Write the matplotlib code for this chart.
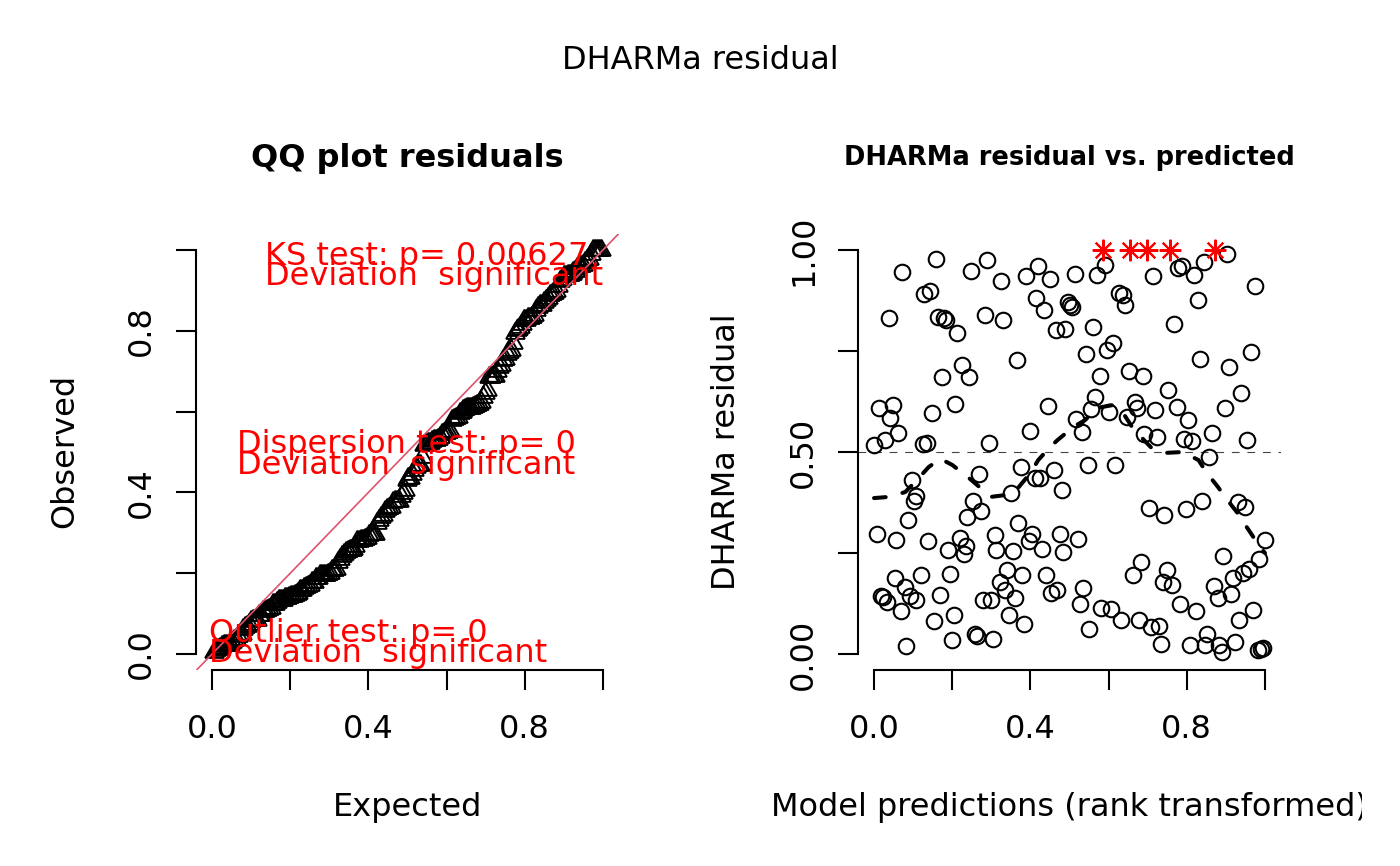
import numpy as np
import matplotlib
matplotlib.use("Agg")
import matplotlib.pyplot as plt
from matplotlib.transforms import Bbox, TransformedBbox

# simulated residuals vs rank-transformed predictions
pred_x = [0.072, 0.158, 0.128, 0.142, 0.038, 0.164, 0.179, 0.185, 0.213, 0.249,
          0.289, 0.325, 0.284, 0.329, 0.390, 0.420, 0.450, 0.415, 0.436, 0.465,
          0.489, 0.365, 0.224, 0.174, 0.244, 0.012, 0.048, 0.042, 0.062, 0.001,
          0.027, 0.148, 0.208, 0.126, 0.135, 0.294, 0.400, 0.445, 0.497, 0.501,
          0.506,
          0.514, 0.571, 0.592, 0.713, 0.778, 0.789, 0.818, 0.844, 0.904, 0.975,
          0.627, 0.636, 0.642, 0.829, 0.561, 0.768, 0.612, 0.597, 0.541, 0.834,
          0.964, 0.909, 0.577, 0.653, 0.687, 0.753, 0.939, 0.566, 0.555, 0.601,
          0.668, 0.672, 0.648, 0.718, 0.774, 0.804, 0.899, 0.517, 0.531, 0.691,
          0.723, 0.794, 0.814, 0.864, 0.954,
          0.098, 0.108, 0.102, 0.087, 0.008, 0.057, 0.138, 0.269, 0.253, 0.274,
          0.239, 0.189, 0.219, 0.235, 0.229, 0.375, 0.411, 0.424, 0.460, 0.481,
          0.350, 0.369, 0.309, 0.313, 0.355, 0.396, 0.405, 0.430, 0.476, 0.483,
          0.053, 0.078, 0.119, 0.017, 0.023, 0.034, 0.093, 0.108, 0.068, 0.168,
          0.194, 0.153, 0.204, 0.083, 0.199, 0.258, 0.263, 0.304, 0.279, 0.300,
          0.340, 0.321, 0.334, 0.360, 0.379, 0.345, 0.384, 0.441, 0.453, 0.469,
          0.858, 0.547, 0.616, 0.703, 0.742, 0.798, 0.839, 0.930, 0.949, 1.000,
          0.523, 0.893, 0.682, 0.663, 0.749, 0.738, 0.763, 0.985, 0.959, 0.943,
          0.919, 0.870, 0.879, 0.914, 0.535, 0.527, 0.581, 0.606, 0.631, 0.677,
          0.708, 0.729, 0.783, 0.824, 0.551, 0.934, 0.969, 0.733, 0.808, 0.847,
          0.853, 0.883, 0.889, 0.923, 0.983, 0.991, 0.996]
resid_y = [0.945, 0.978, 0.891, 0.899, 0.831, 0.835, 0.831, 0.826, 0.795, 0.947,
           0.974, 0.922, 0.839, 0.827, 0.936, 0.961, 0.928, 0.880, 0.852, 0.803,
           0.805, 0.728, 0.716, 0.686, 0.686, 0.609, 0.616, 0.584, 0.547, 0.518,
           0.530, 0.597, 0.618, 0.520, 0.523, 0.522, 0.552, 0.615, 0.872, 0.864,
           0.858,
           0.941, 0.938, 0.964, 0.936, 0.955, 0.960, 0.939, 0.971, 0.990, 0.912,
           0.893, 0.889, 0.865, 0.875, 0.810, 0.817, 0.770, 0.752, 0.743, 0.730,
           0.747, 0.710, 0.689, 0.700, 0.689, 0.654, 0.646, 0.635, 0.606, 0.600,
           0.623, 0.609, 0.586, 0.605, 0.612, 0.578, 0.609, 0.582, 0.549, 0.545,
           0.536, 0.532, 0.528, 0.547, 0.530,
           0.431, 0.390, 0.378, 0.331, 0.298, 0.281, 0.279, 0.445, 0.379, 0.353,
           0.339, 0.257, 0.287, 0.267, 0.248, 0.463, 0.436, 0.436, 0.455, 0.405,
           0.399, 0.324, 0.294, 0.257, 0.254, 0.279, 0.298, 0.261, 0.298, 0.252,
           0.188, 0.166, 0.195, 0.143, 0.140, 0.130, 0.143, 0.134, 0.106, 0.147,
           0.199, 0.082, 0.096, 0.020, 0.034, 0.050, 0.044, 0.036, 0.134, 0.133,
           0.207, 0.178, 0.158, 0.139, 0.196, 0.096, 0.075, 0.195, 0.151, 0.158,
           0.488, 0.467, 0.467, 0.361, 0.343, 0.360, 0.378, 0.376, 0.364, 0.281,
           0.284, 0.243, 0.229, 0.196, 0.207, 0.178, 0.170, 0.234, 0.211, 0.201,
           0.188, 0.168, 0.139, 0.149, 0.164, 0.123, 0.115, 0.111, 0.083, 0.083,
           0.067, 0.069, 0.125, 0.106, 0.063, 0.083, 0.109, 0.026, 0.023, 0.023,
           0.049, 0.023, 0.005, 0.030, 0.009, 0.012, 0.016]

# outliers (shown as red stars)
outlier_x = [0.586, 0.655, 0.697, 0.757, 0.872]
outlier_y = [1.0, 1.0, 1.0, 1.0, 1.0]

# dashed smoother through the residuals
smooth_x = [0.00, 0.04, 0.08, 0.11, 0.14, 0.17, 0.20, 0.24, 0.27, 0.30, 0.34,
            0.37, 0.40, 0.42, 0.45, 0.47, 0.51, 0.54, 0.57, 0.61, 0.64, 0.66,
            0.69, 0.71, 0.75, 0.79, 0.83, 0.85, 0.88, 0.90, 0.93, 0.95, 0.97,
            0.99, 1.00]
smooth_y = [0.386, 0.389, 0.401, 0.431, 0.463, 0.483, 0.468, 0.438, 0.413, 0.389,
            0.394, 0.413, 0.448, 0.480, 0.512, 0.530, 0.562, 0.579, 0.609, 0.616,
            0.592, 0.562, 0.530, 0.510, 0.498, 0.500, 0.480, 0.450, 0.413, 0.386,
            0.349, 0.319, 0.290, 0.262, 0.250]

qq_ticks = [0.0, 0.2, 0.4, 0.6, 0.8, 1.0]
qq_ticklabels = ["0.0", "", "0.4", "", "0.8", ""]
res_yticks = [0.0, 0.25, 0.5, 0.75, 1.0]
res_yticklabels = ["0.00", "", "0.50", "", "1.00"]

# test results printed on the QQ panel
test_lines = [("KS test: p= 0.00627", "Deviation  significant"),
              ("Dispersion test: p= 0", "Deviation  significant"),
              ("Outlier test: p= 0", "Deviation  significant")]

plt.rcParams['font.family'] = ['DejaVu Sans']
FS = 23
W, H = 1400, 866

fig = plt.figure(figsize=(14, 8.66), dpi=100)
ax1 = fig.add_axes([196.4 / W, 1 - 670.2 / H, 422.2 / W, 436.4 / H])
ax2 = fig.add_axes([858.4 / W, 1 - 670.2 / H, 422.2 / W, 436.4 / H])


def r_axes(ax, yticks, ylabels):
    ax.set_xlim(-0.04, 1.04)
    ax.set_ylim(-0.04, 1.04)
    for s in ["top", "right"]:
        ax.spines[s].set_visible(False)
    ax.spines["left"].set_bounds(0, 1)
    ax.spines["bottom"].set_bounds(0, 1)
    ax.spines["left"].set_linewidth(1.5)
    ax.spines["bottom"].set_linewidth(1.5)
    ax.set_xticks(qq_ticks)
    ax.set_xticklabels(qq_ticklabels, fontsize=FS)
    ax.set_yticks(yticks)
    ax.set_yticklabels(ylabels, fontsize=FS, rotation=90, va="center")
    ax.tick_params(axis="both", direction="out", length=14.4, width=1.5)
    ax.tick_params(axis="x", pad=17.2)
    ax.tick_params(axis="y", pad=14.0)


# --- QQ plot ---
all_res = np.sort(np.concatenate([resid_y, outlier_y]))
n = len(all_res)
expected = np.arange(1, n + 1) / (n + 1)
ax1.plot(expected, all_res, linestyle="none", marker=(3, 0, 0), markersize=15.5,
         markerfacecolor="none", markeredgecolor="black", markeredgewidth=1.4)
ax1.axline((0, 0), slope=1, color="#DF536B", lw=1.2)
r_axes(ax1, qq_ticks, qq_ticklabels)

text_pos = [(0.136, 0.963, 0.913), (0.063, 0.497, 0.446), (-0.007, 0.030, -0.019)]
for (l1, l2), (tx, y1, y2) in zip(test_lines, text_pos):
    ax1.text(tx, y1, l1, color="red", fontsize=FS, ha="left", va="baseline")
    ax1.text(tx, y2, l2, color="red", fontsize=FS, ha="left", va="baseline")

# --- residual vs predicted ---
ax2.axhline(0.5, color="#444444", lw=0.8, dashes=(7, 7))
ax2.plot(pred_x, resid_y, linestyle="none", marker="o", markersize=11.2,
         markerfacecolor="none", markeredgecolor="black", markeredgewidth=1.5)
ax2.plot(outlier_x, outlier_y, linestyle="none", marker=(8, 2, 0), markersize=15.5,
         markeredgecolor="red", markeredgewidth=1.5)
ax2.plot(smooth_x, smooth_y, color="black", lw=2.9, dashes=(2.9, 4.3),
         dash_capstyle="round")
r_axes(ax2, res_yticks, res_yticklabels)

# --- titles and labels ---
fig.text(0.5, 1 - 69.3 / H, "DHARMa residual", fontsize=FS, ha="center", va="baseline")
fig.text(407.5 / W, 1 - 166.7 / H, "QQ plot residuals", fontsize=FS,
         fontweight="bold", ha="center", va="baseline")
fig.text(1069.5 / W, 1 - 165 / H, "DHARMa residual vs. predicted", fontsize=18.5,
         fontweight="bold", ha="center", va="baseline")
fig.text(407.5 / W, 1 - 815.7 / H, "Expected", fontsize=FS, ha="center", va="baseline")
xl = fig.text(1069.5 / W, 1 - 815.7 / H, "Model predictions (rank transformed)",
              fontsize=FS, ha="center", va="baseline")
xl.set_clip_box(TransformedBbox(Bbox([[0, 0], [1362 / W, 1]]), fig.transFigure))
xl.set_clip_on(True)
fig.text(73.3 / W, 1 - 451 / H, "Observed", fontsize=FS, rotation=90,
         rotation_mode="anchor", ha="center", va="baseline")
fig.text(735.4 / W, 1 - 452 / H, "DHARMa residual", fontsize=FS, rotation=90,
         rotation_mode="anchor", ha="center", va="baseline")

fig.savefig("out.png", dpi=100)
